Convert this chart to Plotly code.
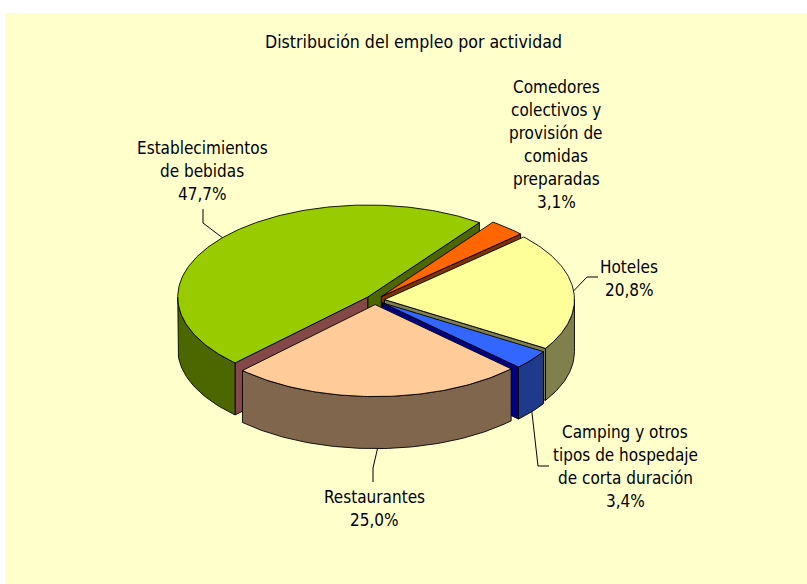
import math
import plotly.graph_objects as go

# ---------------- data ----------------
categories = [
    "Comedores colectivos y provisión de comidas preparadas",
    "Hoteles",
    "Camping y otros tipos de hospedaje de corta duración",
    "Restaurantes",
    "Establecimientos de bebidas",
]
shares = [3.1, 20.8, 3.4, 25.0, 47.7]
label_lines = [
    ["Comedores", "colectivos y", "provisión de", "comidas", "preparadas"],
    ["Hoteles"],
    ["Camping y otros", "tipos de hospedaje", "de corta duración"],
    ["Restaurantes"],
    ["Establecimientos", "de bebidas"],
]
chart_title = "Distribución del empleo por actividad"

# ---------------- style / layout ----------------
W, H = 807, 584
CX, CY = 375.0, 300.0
RX, RY = 190.0, 92.0
DEPTH = 52.0
PULL = 0.05
START = 36.0
FONT = "DejaVu Sans Condensed, Liberation Sans, sans-serif"
FSIZE = 17
TITLE_SIZE = 17.6
LINE_H = 23.0

top_colors = ["#FF6600", "#FFFF99", "#3366FF", "#FFCC99", "#99CC00"]
side_colors = ["#803300", "#80804D", "#1F3A8A", "#80664D", "#4C6600"]
end_face_colors = ["#803300", "#80804D", "#000080", "#80664D", "#4C6600"]
start_face_colors = ["#803300", "#80804D", "#000080", "#80664D", "#844848"]

# label placement: centre x, first-line y, leader anchor ('top'/'bottom'/None), leader bend points
label_pos = [
    (556, 87, None, []),
    (629, 267, "top", [(587, 277), (598, 277)]),
    (625, 432, "bottom", [(538, 466), (549, 466)]),
    (374, 497, "bottom", [(373, 468), (373, 482)]),
    (202, 148, "top", [(203, 223), (203, 209)]),
]


def pt(theta, r, off, down=0.0):
    t = math.radians(theta)
    return (CX + off[0] + r * RX * math.sin(t),
            CY + off[1] - r * RY * math.cos(t) + down)


def arc(a, b, off, down=0.0):
    n = max(2, int(abs(b - a) / 1.0) + 1)
    return [pt(a + (b - a) * k / (n - 1), 1.0, off, down) for k in range(n)]


total = sum(shares)
slices = []
acc = START
for i, v in enumerate(shares):
    a0 = acc
    a1 = acc + 360.0 * v / total
    acc = a1
    mid = (a0 + a1) / 2
    tm = math.radians(mid)
    off = (PULL * RX * math.sin(tm), -PULL * RY * math.cos(tm))
    slices.append((a0, a1, mid, off))

faces = []  # (depth key, points, color)
for i, (a0, a1, mid, off) in enumerate(slices):
    pz = PULL * math.cos(math.radians(mid))
    # outer curved side (front half only)
    for lo_b, hi_b in ((90, 270), (450, 630)):
        lo, hi = max(a0, lo_b), min(a1, hi_b)
        if hi > lo:
            top = arc(lo, hi, off)
            bot = arc(hi, lo, off, DEPTH)
            key = math.cos(math.radians((lo + hi) / 2)) + pz
            faces.append((key, top + bot, side_colors[i]))
    # radial faces
    for ang, visible, col in ((a0, math.sin(math.radians(a0)) < 0, start_face_colors[i]),
                              (a1, math.sin(math.radians(a1)) > 0, end_face_colors[i])):
        if visible:
            c_top = pt(ang, 0, off)
            r_top = pt(ang, 1, off)
            poly = [c_top, r_top, (r_top[0], r_top[1] + DEPTH), (c_top[0], c_top[1] + DEPTH)]
            key = 0.5 * math.cos(math.radians(ang)) + pz
            faces.append((key, poly, col))

faces.sort(key=lambda f: -f[0])

fig = go.Figure()


def add_poly(points, color):
    xs = [p[0] for p in points] + [points[0][0]]
    ys = [p[1] for p in points] + [points[0][1]]
    fig.add_trace(go.Scatter(x=xs, y=ys, mode="lines", fill="toself",
                             fillcolor=color, line=dict(color="#000000", width=0.9),
                             hoverinfo="skip", showlegend=False))


for _, poly, col in faces:
    add_poly(poly, col)

for i, (a0, a1, mid, off) in enumerate(slices):
    poly = [pt(a0, 0, off)] + arc(a0, a1, off)
    add_poly(poly, top_colors[i])

annotations = []
annotations.append(dict(x=413, y=42, xref="x", yref="y", text=chart_title,
                        showarrow=False, font=dict(family=FONT, size=TITLE_SIZE, color="#000000"),
                        xanchor="center", yanchor="middle"))

for i, (a0, a1, mid, off) in enumerate(slices):
    lx, ly, anchor, bends = label_pos[i]
    lines = label_lines[i] + [f"{shares[i]:.1f}".replace(".", ",") + "%"]
    for k, line in enumerate(lines):
        annotations.append(dict(x=lx, y=ly + k * LINE_H, xref="x", yref="y", text=line,
                                showarrow=False,
                                font=dict(family=FONT, size=FSIZE, color="#000000"),
                                xanchor="center", yanchor="middle"))
    if anchor:
        start = pt(mid, 1, off, DEPTH if anchor == "bottom" else 0.0)
        pts = [start] + bends
        fig.add_trace(go.Scatter(x=[p[0] for p in pts], y=[p[1] for p in pts],
                                 mode="lines", line=dict(color="#000000", width=1),
                                 hoverinfo="skip", showlegend=False))

fig.update_layout(
    width=W, height=H, autosize=False,
    margin=dict(l=0, r=0, t=0, b=0, pad=0),
    paper_bgcolor="#FFFFFF", plot_bgcolor="rgba(0,0,0,0)",
    xaxis=dict(range=[0, W], visible=False, fixedrange=True),
    yaxis=dict(range=[H, 0], visible=False, fixedrange=True),
    shapes=[dict(type="rect", xref="x", yref="y", x0=5, y0=13, x1=W, y1=H,
                 fillcolor="#FFFFCC", line=dict(width=0), layer="below")],
    annotations=annotations,
)

fig.write_html("out.html", config={"displayModeBar": False})
